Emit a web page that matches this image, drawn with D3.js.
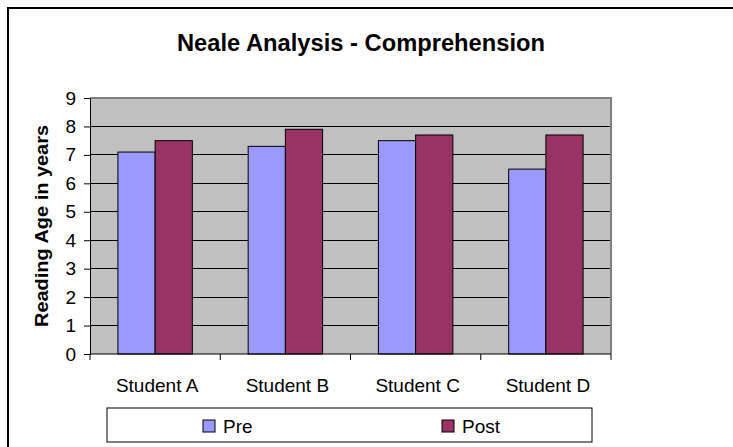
<!DOCTYPE html>
<html>
<head>
<meta charset="utf-8">
<script src="https://cdn.jsdelivr.net/npm/d3@7"></script>
<style>
  html, body { margin: 0; padding: 0; background: #fff; }
  svg { display: block; font-family: Arial, "Liberation Sans", sans-serif; }
</style>
</head>
<body>
<svg id="chart" width="733" height="447"></svg>
<script>
// Reading ages before and after the programme
const students = ["Student A", "Student B", "Student C", "Student D"];
const preValues = [7.1, 7.3, 7.5, 6.5];
const postValues = [7.5, 7.9, 7.7, 7.7];
const seriesNames = ["Pre", "Post"];
const seriesColors = ["#9999FF", "#993366"];
const yTicks = [0, 1, 2, 3, 4, 5, 6, 7, 8, 9];

const svg = d3.select("#chart");

// Outer chart frame
svg.append("rect")
  .attr("x", 8).attr("y", 8)
  .attr("width", 740).attr("height", 450)
  .attr("fill", "#fff").attr("stroke", "#000").attr("stroke-width", 2);

// Title
svg.append("text")
  .attr("x", 361).attr("y", 51)
  .attr("text-anchor", "middle")
  .attr("font-size", 23).attr("font-weight", "bold")
  .attr("textLength", 368).attr("lengthAdjust", "spacingAndGlyphs")
  .text("Neale Analysis - Comprehension");

const plot = { left: 90, right: 611, top: 98, bottom: 354 };

const x0 = d3.scaleBand().domain(students)
  .range([plot.left, plot.right]).paddingInner(0).paddingOuter(0);
const x1 = d3.scaleBand().domain(seriesNames)
  .range([0, x0.bandwidth()]).paddingInner(0).paddingOuter(0.75);
const y = d3.scaleLinear().domain([0, 9]).range([plot.bottom, plot.top]);

// Plot background
svg.append("rect")
  .attr("x", plot.left).attr("y", plot.top)
  .attr("width", plot.right - plot.left).attr("height", plot.bottom - plot.top)
  .attr("fill", "#C0C0C0");

// Horizontal gridlines
svg.append("g").selectAll("line")
  .data(yTicks.filter(t => t > 0 && t < 9))
  .join("line")
  .attr("x1", plot.left).attr("x2", plot.right)
  .attr("y1", d => y(d)).attr("y2", d => y(d))
  .attr("stroke", "#000").attr("stroke-width", 1)
  .attr("shape-rendering", "crispEdges");

// Plot border top / right
svg.append("path")
  .attr("d", `M${plot.left},${plot.top}H${plot.right}V${plot.bottom}`)
  .attr("fill", "none").attr("stroke", "#808080").attr("stroke-width", 2);

// Bars
const rows = students.map((s, i) => ({ student: s, values: [preValues[i], postValues[i]] }));
const groups = svg.append("g").selectAll("g")
  .data(rows).join("g")
  .attr("transform", d => `translate(${x0(d.student)},0)`);
groups.selectAll("rect")
  .data(d => d.values.map((v, k) => ({ key: seriesNames[k], value: v, color: seriesColors[k] })))
  .join("rect")
  .attr("x", d => x1(d.key))
  .attr("width", x1.bandwidth())
  .attr("y", d => y(d.value))
  .attr("height", d => y(0) - y(d.value))
  .attr("fill", d => d.color)
  .attr("stroke", "#000").attr("stroke-width", 1);

// Y axis
const yAxis = d3.axisLeft(y).tickValues(yTicks).tickSize(6).tickPadding(8).tickSizeOuter(0);
const gy = svg.append("g").attr("transform", `translate(${plot.left},0)`).call(yAxis);
gy.select(".domain").attr("stroke", "#000");
gy.selectAll(".tick line").attr("stroke", "#000");
gy.selectAll(".tick text")
  .attr("font-size", 19).attr("fill", "#000")
  .attr("font-family", "Arial, 'Liberation Sans', sans-serif");

// X axis: ticks at category boundaries, labels centered
const boundaries = students.map(s => x0(s)).concat([plot.right]);
svg.append("line")
  .attr("x1", plot.left).attr("x2", plot.right)
  .attr("y1", plot.bottom).attr("y2", plot.bottom)
  .attr("stroke", "#000").attr("stroke-width", 1);
svg.append("g").selectAll("line")
  .data(boundaries).join("line")
  .attr("x1", d => d).attr("x2", d => d)
  .attr("y1", plot.bottom).attr("y2", plot.bottom + 6)
  .attr("stroke", "#000");
svg.append("g").selectAll("text")
  .data(students).join("text")
  .attr("x", d => x0(d) + x0.bandwidth() / 2 + 2)
  .attr("y", 392)
  .attr("text-anchor", "middle")
  .attr("font-size", 19)
  .text(d => d);

// Y axis title
svg.append("text")
  .attr("transform", "translate(48,226) rotate(-90)")
  .attr("text-anchor", "middle")
  .attr("font-size", 19).attr("font-weight", "bold")
  .attr("textLength", 202).attr("lengthAdjust", "spacingAndGlyphs")
  .text("Reading Age in years");

// Legend
svg.append("rect")
  .attr("x", 107).attr("y", 408).attr("width", 485).attr("height", 34)
  .attr("fill", "#fff").attr("stroke", "#000").attr("stroke-width", 1);
const legendX = [203, 442];
const leg = svg.append("g").selectAll("g")
  .data(seriesNames).join("g")
  .attr("transform", (d, i) => `translate(${legendX[i]},420)`);
leg.append("rect")
  .attr("width", 12).attr("height", 12)
  .attr("fill", (d, i) => seriesColors[i])
  .attr("stroke", "#000").attr("stroke-width", 1);
leg.append("text")
  .attr("x", 20).attr("y", 13)
  .attr("font-size", 19)
  .text(d => d);
</script>
</body>
</html>
